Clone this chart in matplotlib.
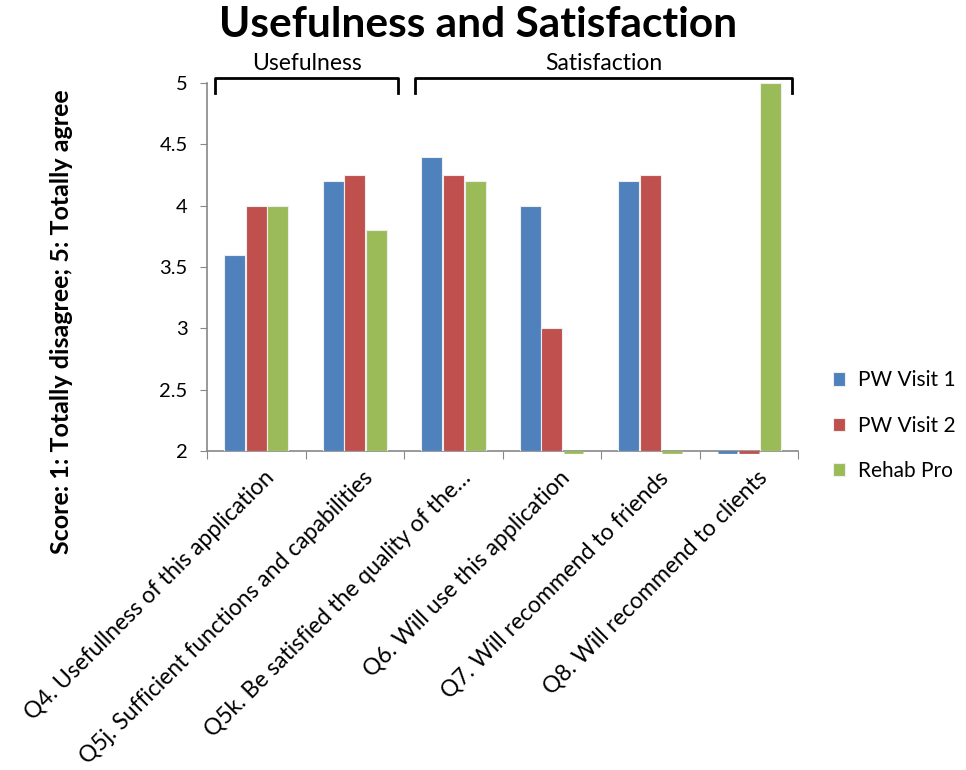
import numpy as np
import matplotlib
matplotlib.use("Agg")
import matplotlib.pyplot as plt
from matplotlib.transforms import blended_transform_factory

plt.rcParams['font.family'] = ['Lato', 'DejaVu Sans']

categories = [
    "Q4. Usefullness of this application",
    "Q5j. Sufficient functions and capabilities",
    "Q5k. Be satisfied the quality of the\u2026",
    "Q6. Will use this application",
    "Q7. Will recommend to friends",
    "Q8. Will recommend to clients",
]
series_names = ["PW Visit 1", "PW Visit 2", "Rehab Pro"]
pw_visit_1 = [3.6, 4.2, 4.4, 4.0, 4.2, 0]
pw_visit_2 = [4.0, 4.25, 4.25, 3.0, 4.25, 0]
rehab_pro = [4.0, 3.8, 4.2, 0, 0, 5.0]
colors = ["#4F81BD", "#C0504D", "#9BBB59"]
y_ticks = [2, 2.5, 3, 3.5, 4, 4.5, 5]
y_tick_labels = ["2", "2.5", "3", "3.5", "4", "4.5", "5"]
groups = [("Usefulness", 0, 1), ("Satisfaction", 2, 5)]

ymin, ymax = 2, 5

fig = plt.figure(figsize=(9.66, 7.70), dpi=100)
ax = fig.add_axes([0.2143, 0.4143, 0.612, 0.478])

x = np.arange(len(categories))
width = 0.22
for i, (name, vals, c) in enumerate(zip(series_names, [pw_visit_1, pw_visit_2, rehab_pro], colors)):
    vals = np.array(vals, dtype=float)
    xs = x + (i - 1) * width
    heights = np.clip(vals, ymin, None) - ymin
    ax.bar(xs, heights, width=width * 0.97, bottom=ymin, color=c,
           edgecolor="#eeeeee", linewidth=0.8, label=name, zorder=3)
    # values below the axis floor show as a flat sliver on the baseline
    for xx, v in zip(xs, vals):
        if v <= ymin:
            ax.plot([xx - width * 0.45, xx + width * 0.45], [ymin - 0.008, ymin - 0.008],
                    color=c, lw=2, solid_capstyle="butt", clip_on=False, zorder=4)

ax.set_xlim(-0.5, len(categories) - 0.5)
ax.set_ylim(ymin, ymax)
ax.set_yticks(y_ticks)
ax.set_yticklabels(y_tick_labels, fontsize=14.5)

for s in ["top", "right"]:
    ax.spines[s].set_visible(False)
for s in ["left", "bottom"]:
    ax.spines[s].set_color("#888888")
    ax.spines[s].set_linewidth(1.2)

ax.tick_params(axis="y", length=5, color="#888888", pad=9)
ax.set_xticks(np.arange(len(categories) + 1) - 0.5, minor=False)
ax.set_xticklabels([])
ax.tick_params(axis="x", length=6, color="#888888")
for xi, lab in zip(x, categories):
    ax.text(xi + 0.07, ymin - 0.13, lab, rotation=45, ha="right", va="top",
            rotation_mode="anchor", fontsize=16.5)

# group brackets above the plot
trans = blended_transform_factory(ax.transData, ax.transAxes)
for label, i0, i1 in groups:
    xl = i0 - 0.42
    xr = i1 + 0.44
    if i0 > 0:
        xl = i0 - 0.39
    ax.plot([xl, xl, xr, xr], [0.973, 1.014, 1.014, 0.973], color="black", lw=2,
            transform=trans, clip_on=False)
    ax.text((xl + xr) / 2, 1.025, label, transform=trans, ha="center", va="bottom",
            fontsize=16.5)

fig.text(0.495, 0.967, "Usefulness and Satisfaction", ha="center", va="center",
         fontsize=30.5, fontweight="bold")
fig.text(0.064, 0.582, "Score: 1: Totally disagree; 5: Totally agree", rotation=90,
         ha="center", va="center", fontsize=18, fontweight="bold")

leg = fig.legend(loc="upper left", bbox_to_anchor=(0.862, 0.519), frameon=False,
                 fontsize=15, handlelength=0.6, handleheight=0.6, labelspacing=1.22,
                 handletextpad=0.6, borderaxespad=0, borderpad=0)

fig.savefig("out.png", dpi=100)
